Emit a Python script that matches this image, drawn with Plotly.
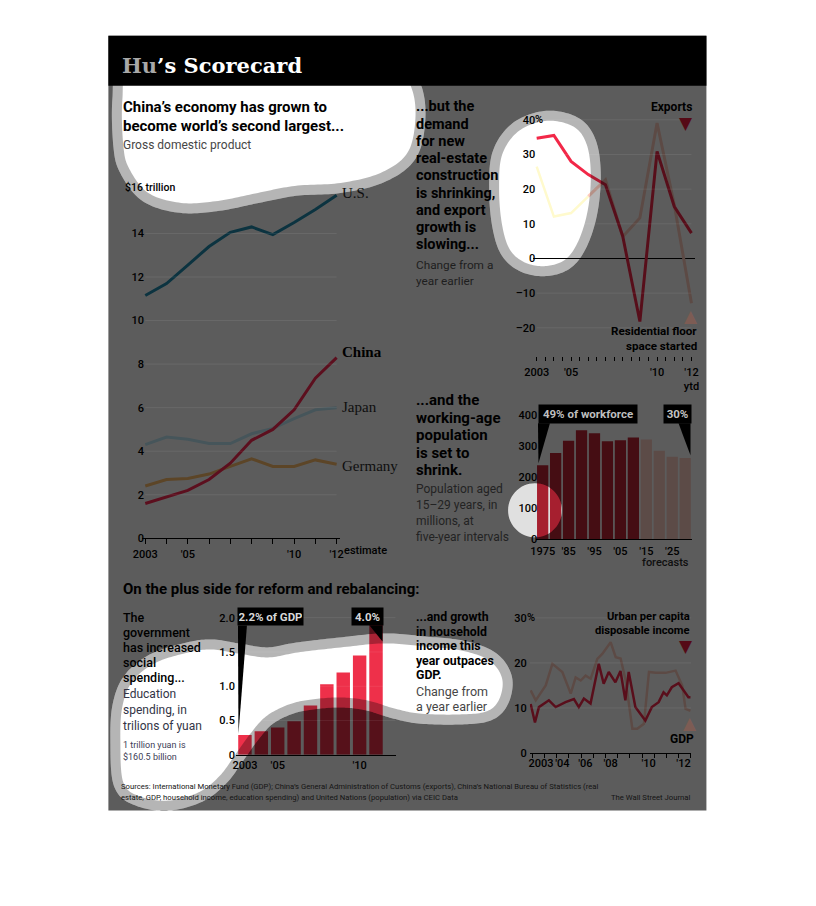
import numpy as np
import plotly.graph_objects as go

# Figure size; positions below are given in screenshot pixels and mapped
# through the measured page placement (offset + slight scale).
FIG_W, FIG_H = 800, 890
AX, SX = 16.3, 0.987
AY, SY = 8.3, 0.991

# ---------------- data ----------------
GDP_YEARS = list(range(2003, 2013))
GDP_US = [11.15, 11.7, 12.55, 13.4, 14.05, 14.3, 13.95, 14.5, 15.1, 15.75]
GDP_CHINA = [1.6, 1.9, 2.2, 2.7, 3.45, 4.5, 5.0, 5.9, 7.35, 8.3]
GDP_JAPAN = [4.3, 4.65, 4.55, 4.35, 4.35, 4.8, 5.05, 5.5, 5.9, 6.0]
GDP_GERMANY = [2.4, 2.7, 2.75, 2.95, 3.3, 3.65, 3.3, 3.3, 3.6, 3.4]
GDP_YTICKS = [0, 2, 4, 6, 8, 10, 12, 14]
GDP_XTICKS = [2003, 2005, 2010, 2012]
GDP_XTICKTEXT = ["2003", "'05", "'10", "'12"]

TRADE_YEARS = list(range(2003, 2013))
EXPORTS = [34.7, 35.5, 28.0, 24.2, 21.3, 6.5, -18.2, 30.9, 15.0, 7.3]
FLOOR_SPACE = [26.5, 12.1, 13.1, 17.9, 22.7, 6.3, 11.7, 39.1, 15.5, -12.9]
TRADE_YTICKS = [-20, -10, 0, 10, 20, 30, 40]
TRADE_YTICKTEXT = ["–20", "–10", "0", "10", "20", "30", "40"]
TRADE_XTICKS = [2003, 2005, 2010, 2012]
TRADE_XTICKTEXT = ["2003", "'05", "'10", "'12<br>ytd"]

POP_YEARS = [1975, 1980, 1985, 1990, 1995, 2000, 2005, 2010, 2015, 2020, 2025, 2030]
POP_VALUES = [238, 277, 316, 350, 340, 315, 318, 327, 320, 284, 265, 261]
POP_FIRST_FORECAST = 2015
POP_YTICKS = [0, 100, 200, 300, 400]
POP_XTICKS = [1975, 1985, 1995, 2005, 2015, 2025]
POP_XTICKTEXT = ["1975", "'85", "'95", "'05", "'15", "'25"]

EDU_YEARS = list(range(2003, 2012))
EDU_VALUES = [0.29, 0.345, 0.40, 0.49, 0.72, 1.03, 1.20, 1.45, 1.90]
EDU_YTICKS = [0, 0.5, 1.0, 1.5, 2.0]
EDU_YTICKTEXT = ["0", "0.5", "1.0", "1.5", "2.0"]
EDU_XTICKS = [2003, 2005, 2010]
EDU_XTICKTEXT = ["2003", "'05", "'10"]

INC_T = [2002.85, 2003.12, 2003.37, 2004.00, 2004.43, 2005.05, 2005.58, 2005.89, 2006.21,
         2006.63, 2007.15, 2007.46, 2007.78, 2008.20, 2008.52, 2008.83, 2009.04, 2009.46,
         2010.09, 2010.50, 2010.93, 2011.24, 2011.45, 2011.76, 2012.19, 2012.50, 2012.81, 2012.94]
INC_URBAN = [10.9, 6.8, 10.2, 11.7, 10.2, 11.3, 12.0, 10.2, 12.1, 11.0, 19.8, 15.4, 18.0, 15.7,
             18.2, 11.7, 18.0, 10.2, 7.2, 10.2, 11.3, 13.5, 12.8, 14.6, 15.5, 13.9, 12.4, 12.4]
GDPQ_T = [2002.85, 2003.17, 2003.80, 2004.22, 2004.85, 2005.38, 2005.69, 2006.01, 2006.32, 2006.64,
          2007.06, 2007.37, 2007.90, 2008.22, 2008.53, 2008.85, 2009.27, 2009.58, 2010.00, 2010.32,
          2010.74, 2011.37, 2012.00, 2012.42, 2012.63, 2012.94]
GDPQ_VALUES = [13.9, 11.7, 15.0, 19.8, 18.0, 13.2, 16.8, 16.1, 17.2, 16.5, 20.9, 22.0, 24.6, 21.3,
               21.0, 16.1, 5.4, 5.4, 6.5, 18.0, 17.8, 17.8, 18.3, 15.0, 9.8, 9.4]
INC_YTICKS = [0, 10, 20, 30]
INC_XTICKS = [2003.5, 2004.85, 2006.3, 2007.9, 2010.3, 2012.5]
INC_XTICKTEXT = ["2003", "'04", "'06", "'08", "'10", "'12"]

# ---------------- helpers ----------------
SANS = "Roboto, 'Open Sans', Arial, sans-serif"
SERIF = "'Liberation Serif', 'DejaVu Serif', serif"
TITLE_SERIF = "'DejaVu Serif', serif"
SYMBOL_FONT = "'DejaVu Sans', sans-serif"
OVERLAY_A = 0.64


def FX(x):
    return ((x - AX) / SX) / FIG_W


def FY(y):
    return 1 - ((y - AY) / SY) / FIG_H


def xdomain(v1, p1, v2, p2, r0, r1):
    s = (p2 - p1) / (v2 - v1)
    return [FX(p1 + (r0 - v1) * s), FX(p1 + (r1 - v1) * s)]


def ydomain(v1, p1, v2, p2, r0, r1):
    s = (p2 - p1) / (v2 - v1)
    return [FY(p1 + (r0 - v1) * s), FY(p1 + (r1 - v1) * s)]


def P(x, y):
    return f"{FX(x):.5f},{FY(y):.5f}"


def subpath(pts):
    return "M" + "L".join(P(x, y) for x, y in pts) + "Z"


def smooth(ctrl, n=14):
    c = np.array(ctrl, float)
    m = len(c)
    out = []
    for i in range(m):
        p0, p1, p2, p3 = c[(i - 1) % m], c[i], c[(i + 1) % m], c[(i + 2) % m]
        for t in np.linspace(0, 1, n, endpoint=False):
            t2, t3 = t * t, t * t * t
            out.append(0.5 * ((2 * p1) + (-p0 + p2) * t + (2 * p0 - 5 * p1 + 4 * p2 - p3) * t2
                              + (-p0 + 3 * p1 - 3 * p2 + p3) * t3))
    return np.array(out)


def offset(pts, d):
    area = 0.5 * np.sum(pts[:, 0] * np.roll(pts[:, 1], -1) - np.roll(pts[:, 0], -1) * pts[:, 1])
    t = np.roll(pts, -1, axis=0) - np.roll(pts, 1, axis=0)
    t /= np.linalg.norm(t, axis=1)[:, None]
    nrm = np.stack([t[:, 1], -t[:, 0]], axis=1)
    if area < 0:
        nrm = -nrm
    return pts + d * nrm


annotations = []


def txt(text, x, y, size=12, color="black", weight=400, anchor="left", family=SANS, **kw):
    annotations.append(dict(text=text, x=FX(x), y=FY(y), xref="paper", yref="paper",
                            xanchor=anchor, yanchor="middle", showarrow=False,
                            font=dict(family=family, size=size, color=color, weight=weight), **kw))


def block(lines, x, y0, dy, **kw):
    for i, line in enumerate(lines):
        txt(line, x, y0 + i * dy, **kw)


fig = go.Figure()

# ---------------- traces ----------------
for vals, col in [(GDP_GERMANY, "rgb(255,190,110)"), (GDP_JAPAN, "rgb(195,235,250)"),
                  (GDP_US, "rgb(34,143,177)"), (GDP_CHINA, "rgb(255,42,84)")]:
    fig.add_trace(go.Scatter(x=GDP_YEARS, y=vals, mode="lines", line=dict(color=col, width=3),
                             xaxis="x", yaxis="y", hoverinfo="skip"))

fig.add_trace(go.Scatter(x=TRADE_YEARS[:4], y=FLOOR_SPACE[:4], mode="lines",
                         line=dict(color="rgb(255,250,205)", width=2.5), xaxis="x2", yaxis="y2"))
fig.add_trace(go.Scatter(x=TRADE_YEARS[3:], y=FLOOR_SPACE[3:], mode="lines",
                         line=dict(color="rgb(255,205,190)", width=3), xaxis="x2", yaxis="y2"))
fig.add_trace(go.Scatter(x=TRADE_YEARS, y=EXPORTS, mode="lines",
                         line=dict(color="rgb(242,40,72)", width=3), xaxis="x2", yaxis="y2"))

pop_colors = ["rgb(255,208,198)" if y >= POP_FIRST_FORECAST else "rgb(190,36,54)" for y in POP_YEARS]
fig.add_trace(go.Bar(x=POP_YEARS, y=POP_VALUES, width=4.35, marker=dict(color=pop_colors, line_width=0),
                     xaxis="x3", yaxis="y3"))

fig.add_trace(go.Bar(x=EDU_YEARS, y=EDU_VALUES, width=0.82,
                     marker=dict(color="rgb(238,48,74)", line_width=0), xaxis="x4", yaxis="y4"))

fig.add_trace(go.Scatter(x=GDPQ_T, y=GDPQ_VALUES, mode="lines",
                         line=dict(color="rgb(255,205,190)", width=2.5), xaxis="x5", yaxis="y5"))
fig.add_trace(go.Scatter(x=INC_T, y=INC_URBAN, mode="lines",
                         line=dict(color="rgb(245,40,75)", width=2.5), xaxis="x5", yaxis="y5"))

# ---------------- axes ----------------
TICKFONT = dict(family=SANS, size=11, color="black", weight=500)


def ax(**kw):
    d = dict(showgrid=False, zeroline=False, showline=False, ticks="", fixedrange=True,
             tickfont=TICKFONT, tickangle=0)
    d.update(kw)
    return d


layout_axes = dict(
    xaxis=ax(domain=xdomain(2003, 145, 2012, 337, 2002.85, 2012.15), range=[2002.85, 2012.15], anchor="y",
             showline=True, linecolor="black", linewidth=1, tickmode="array", tickvals=GDP_XTICKS,
             ticktext=GDP_XTICKTEXT, ticks="outside", ticklen=5, tickcolor="black",
             minor=dict(tickmode="linear", tick0=2003, dtick=1, ticks="outside", ticklen=5, tickcolor="black")),
    yaxis=ax(domain=ydomain(0, 538, 16, 190, 0, 16.3), range=[0, 16.3], anchor="x",
             tickmode="array", tickvals=GDP_YTICKS, ticklabelstandoff=-3),
    xaxis2=ax(domain=xdomain(2003, 537.7, 2012, 693, 2002.8, 2012.2), range=[2002.8, 2012.2], anchor="y2",
              tickmode="array", tickvals=TRADE_XTICKS, ticktext=TRADE_XTICKTEXT, ticks="outside", ticklen=4,
              tickcolor="black", ticklabelstandoff=2,
              minor=dict(tickmode="linear", tick0=2003, dtick=0.5, ticks="outside", ticklen=4, tickcolor="black")),
    yaxis2=ax(domain=ydomain(0, 258.5, 40, 120, -28, 42), range=[-28, 42], anchor="x2",
              tickmode="array", tickvals=TRADE_YTICKS, ticktext=TRADE_YTICKTEXT, ticklabelstandoff=-3,
              zeroline=True, zerolinecolor="black", zerolinewidth=1),
    xaxis3=ax(domain=xdomain(1975, 543.7, 2030, 686.7, 1972.5, 2032.5), range=[1972.5, 2032.5], anchor="y3",
              showline=True, linecolor="black", linewidth=1, tickmode="array", tickvals=POP_XTICKS,
              ticktext=POP_XTICKTEXT, ticklabelstandoff=1),
    yaxis3=ax(domain=ydomain(0, 539, 400, 414.5, 0, 420), range=[0, 420], anchor="x3",
              tickmode="array", tickvals=POP_YTICKS, ticklabelstandoff=-2),
    xaxis4=ax(domain=xdomain(2003, 245, 2011, 376.5, 2002.45, 2012.2), range=[2002.45, 2012.2], anchor="y4",
              showline=True, linecolor="black", linewidth=1, tickmode="array", tickvals=EDU_XTICKS,
              ticktext=EDU_XTICKTEXT),
    yaxis4=ax(domain=ydomain(0, 754.3, 2, 617.3, 0, 2.1), range=[0, 2.1], anchor="x4",
              tickmode="array", tickvals=EDU_YTICKS, ticktext=EDU_YTICKTEXT),
    xaxis5=ax(domain=xdomain(2003.5, 542, 2012.5, 685, 2002.8, 2013.0), range=[2002.8, 2013.0], anchor="y5",
              showline=True, linecolor="black", linewidth=1, tickmode="array", tickvals=INC_XTICKS,
              ticktext=INC_XTICKTEXT,
              minor=dict(tickmode="linear", tick0=2002.95, dtick=0.77, ticks="outside", ticklen=4,
                         tickcolor="black")),
    yaxis5=ax(domain=ydomain(0, 752.5, 30, 617.5, 0, 32), range=[0, 32], anchor="x5",
              tickmode="array", tickvals=INC_YTICKS, ticklabelstandoff=2),
)

# ---------------- shapes: title bar, spotlight overlay ----------------
shapes = [dict(type="rect", xref="paper", yref="paper", x0=FX(108), x1=FX(708), y0=FY(86), y1=FY(36),
               fillcolor="black", line=dict(width=0), layer="below")]

BLOB1 = [(122, 100), (123, 146), (129, 169), (148, 193), (181, 203), (218, 201), (258, 193),
         (295, 186), (341, 183), (381, 173), (408, 153), (416, 119), (412, 88), (395, 66), (300, 52),
         (180, 52), (130, 66)]
BLOB2 = [(548, 121), (575, 127), (588, 145), (592, 175), (589, 210), (580, 240), (567, 259), (548, 266),
         (527, 263), (511, 250), (503, 225), (500, 190), (503, 155), (520, 131)]
BLOB4 = [(120, 740), (122, 706), (132, 681), (154, 663), (184, 653), (210, 649), (238, 653), (268, 657),
         (298, 652), (341, 647), (385, 643), (425, 646), (462, 650), (490, 660), (503, 678), (500, 699),
         (487, 711), (458, 714), (420, 713), (395, 708), (368, 700), (341, 697), (312, 699), (289, 704),
         (266, 716), (249, 735), (234, 756), (219, 776), (198, 792), (168, 800), (140, 796), (123, 782)]
CIRCLE_C, CIRCLE_R = (536, 510), 27

inner = [smooth(b) for b in (BLOB1, BLOB2, BLOB4)]
outer = [offset(p, 10) for p in inner]
ang = np.linspace(0, 2 * np.pi, 60, endpoint=False)
circ = np.stack([CIRCLE_C[0] + CIRCLE_R * np.cos(ang), CIRCLE_C[1] + CIRCLE_R * np.sin(ang)], axis=1)

frame = [(108, 36), (708, 36), (708, 810), (108, 810)]
overlay_path = subpath(frame) + "".join(subpath(o) for o in outer) + subpath(circ)
shapes.append(dict(type="path", xref="paper", yref="paper", path=overlay_path, fillrule="evenodd",
                   fillcolor=f"rgba(0,0,0,{OVERLAY_A})", line=dict(width=0), layer="above"))
for o, i in zip(outer, inner):
    shapes.append(dict(type="path", xref="paper", yref="paper", path=subpath(o) + subpath(i),
                       fillrule="evenodd", fillcolor="rgba(0,0,0,0.29)", line=dict(width=0), layer="above"))
shapes.append(dict(type="path", xref="paper", yref="paper", path=subpath(circ),
                   fillcolor="rgba(0,0,0,0.12)", line=dict(width=0), layer="above"))

# gridlines (drawn over the overlay, faintly lighter)
GRID = "rgba(255,255,255,0.08)"
for xa, ya, x0, x1, vals in [("x", "y", GDP_YEARS[0], GDP_YEARS[-1], GDP_YTICKS[1:]),
                             ("x2", "y2", TRADE_YEARS[0], TRADE_YEARS[-1], [v for v in TRADE_YTICKS if v != 0]),
                             ("x4", "y4", 2002.45, 2012.2, EDU_YTICKS[1:]),
                             ("x5", "y5", 2002.8, 2013.0, INC_YTICKS[1:])]:
    for v in vals:
        shapes.append(dict(type="line", xref=xa, yref=ya, x0=x0, x1=x1, y0=v, y1=v,
                           line=dict(color=GRID, width=1), layer="above"))

# callout pointers
for tri in [[(539, 423), (551, 423), (539.5, 463)], [(680, 423), (692, 423), (692, 455)],
            [(238, 625), (247, 625), (238.5, 733)], [(370, 625), (383, 625), (383, 641)]]:
    shapes.append(dict(type="path", xref="paper", yref="paper", path=subpath(tri),
                       fillcolor="black", line=dict(width=0), layer="above"))

# ---------------- text ----------------
txt("<span style='color:#a8a8a8'>Hu</span>’s Scorecard", 120, 66, size=21, color="white", weight=700,
    family=TITLE_SERIF)

block(["China’s economy has grown to", "become world’s second largest..."], 121, 107, 19,
      size=15, weight=700)
txt("Gross domestic product", 121, 145, size=12, color="rgb(70,70,70)")
txt("$16 trillion", 123, 188, size=10.5, weight=500)
txt("U.S.", 340, 193, size=15, color="rgb(15,15,15)", family=SERIF)
txt("China", 340, 352, size=15, color="black", weight=700, family=SERIF)
txt("Japan", 340, 407, size=15, color="rgb(15,15,15)", family=SERIF)
txt("Germany", 340, 466, size=15, color="rgb(15,15,15)", family=SERIF)
txt("estimate", 342, 550, size=11, weight=500)

block(["...but the", "demand", "for new", "real-estate", "construction", "is shrinking,",
       "and export", "growth is", "slowing..."], 415, 107, 17.25, size=14.5, weight=700)
block(["Change from a", "year earlier"], 415, 265, 15.5, size=11.8, color="rgb(30,30,30)")
txt("%", 534.5, 120, size=11, weight=500)
txt("Exports", 696, 107, size=12, weight=700, anchor="right")
txt("▼", 688, 123, size=17, color="rgb(85,10,22)", anchor="center", family=SYMBOL_FONT)
txt("▲", 693, 316, size=17, color="rgb(125,92,84)", anchor="center", family=SYMBOL_FONT)
block(["Residential floor", "space started"], 701, 331, 14.5, size=11.6, weight=700, anchor="right")

block(["...and the", "working-age", "population", "is set to", "shrink."], 415, 400, 17.5,
      size=15, weight=700)
block(["Population aged", "15–29 years, in", "millions, at", "five-year intervals"], 415, 489, 16,
      size=12, color="rgb(35,35,35)")
txt("forecasts", 693, 562, size=11, weight=500, anchor="right", color="rgb(15,15,15)")
txt("49% of workforce", 589, 414, size=11.5, weight=700, anchor="center", color="rgb(190,190,190)",
    bgcolor="black", width=96, height=16)
txt("30%", 678.5, 414, size=11.5, weight=700, anchor="center", color="rgb(195,195,195)",
    bgcolor="black", width=25, height=16)

txt("On the plus side for reform and rebalancing:", 121, 589, size=15, weight=700)
block(["The", "government", "has increased", "social", "spending..."], 121, 617, 15, size=12.5, weight=500)
block(["Education", "spending, in", "trilions of yuan"], 121, 694, 15.5, size=12,
      color="rgb(50,52,70)")
block(["1 trillion yuan is", "$160.5 billion"], 121, 744, 12, size=9, color="rgb(60,60,85)")
txt("2.2% of GDP", 270.5, 616.5, size=11.5, weight=700, anchor="center", color="rgb(215,215,215)",
    bgcolor="black", width=63, height=15)
txt("4.0%", 367.5, 616.5, size=11.5, weight=700, anchor="center", color="rgb(215,215,215)",
    bgcolor="black", width=29, height=15)

block(["...and growth", "in household", "income this", "year outpaces", "GDP."], 415, 617, 14.4,
      size=12.3, weight=700)
block(["Change from", "a year earlier"], 415, 691, 15, size=12.5, color="rgb(70,70,70)")
txt("%", 526, 617, size=11, weight=500)
block(["Urban per capita", "disposable income"], 694, 616, 14, size=11.2, weight=700, anchor="right")
txt("▼", 688, 646, size=17, color="rgb(85,10,22)", anchor="center", family=SYMBOL_FONT)
txt("▲", 692, 722, size=17, color="rgb(125,92,84)", anchor="center", family=SYMBOL_FONT)
txt("GDP", 698, 738, size=12, weight=700, anchor="right")

txt("Sources: International Monetary Fund (GDP); China’s General Administration of Customs (exports), "
    "China’s National Bureau of Statistics (real", 119, 786, size=7.7, color="rgb(20,20,20)")
txt("estate, GDP, household income, education spending) and United Nations (population) via CEIC Data",
    119, 797, size=7.7, color="rgb(20,20,20)")
txt("The Wall Street Journal", 694, 797, size=7.7, color="rgb(20,20,20)", anchor="right")

fig.update_layout(
    width=FIG_W, height=FIG_H, margin=dict(l=0, r=0, t=0, b=0), autosize=False,
    paper_bgcolor="white", plot_bgcolor="rgba(0,0,0,0)", showlegend=False,
    shapes=shapes, annotations=annotations, hovermode=False, **layout_axes,
)

fig.write_html("out.html")
